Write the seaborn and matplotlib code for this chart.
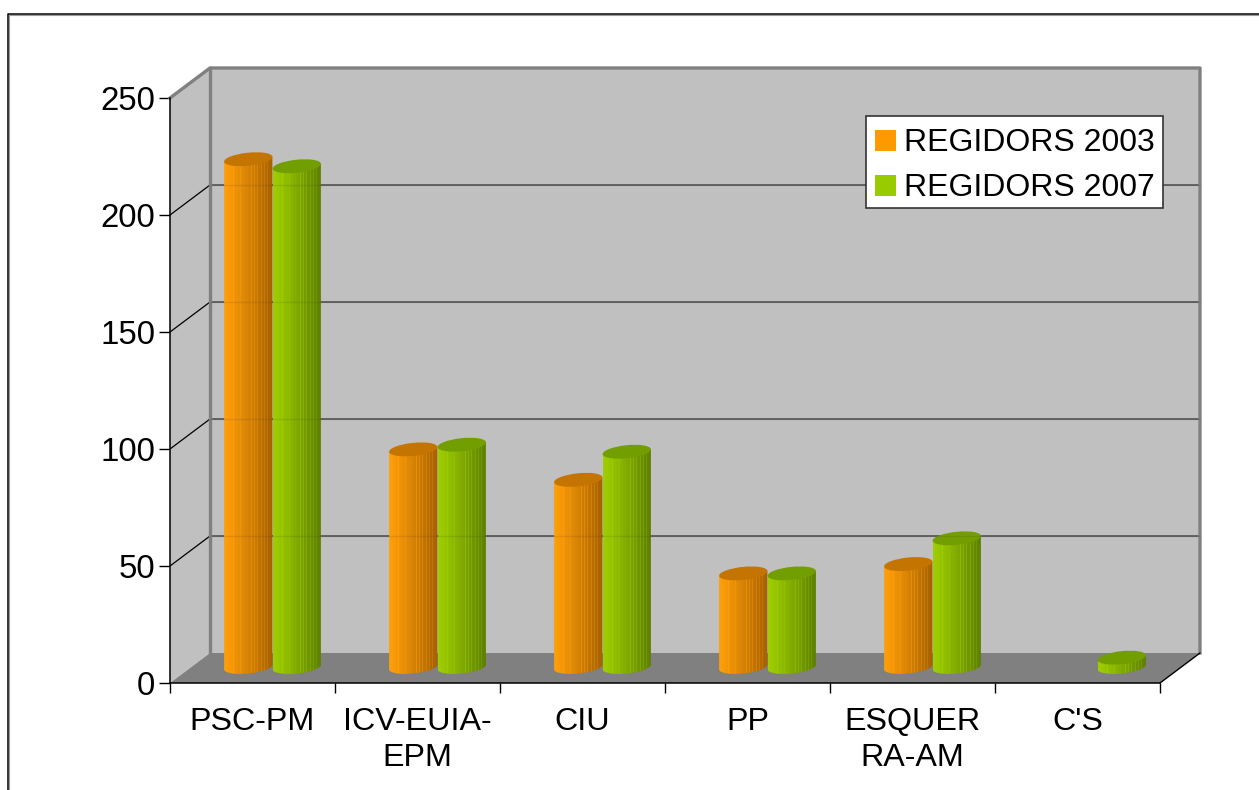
import matplotlib
matplotlib.use("Agg")
import matplotlib.pyplot as plt
import numpy as np
import pandas as pd
import seaborn as sns
from matplotlib.lines import Line2D
from matplotlib.patches import Ellipse, Polygon
from matplotlib.path import Path
from matplotlib.transforms import IdentityTransform

# Values
partits = ["PSC-PM", "ICV-EUIA-\nEPM", "CIU", "PP", "ESQUER\nRA-AM", "C'S"]
regidors_2003 = [217, 93, 80, 40, 44, 0]
regidors_2007 = [214, 95, 92, 40, 55, 4]
y_ticks = [0, 50, 100, 150, 200, 250]
series_names = ["REGIDORS 2003", "REGIDORS 2007"]

# Colours (bright side, dark side, top of the cylinder)
series_colors = ["#FF9900", "#99CC00"]
bright = [(1.0, 0.62, 0.04), (0.62, 0.81, 0.0)]
dark = [(0.64, 0.38, 0.0), (0.36, 0.49, 0.0)]
tops = ["#C47400", "#739E00"]

W, H = 1259, 790
sns.set_theme(style="white")
plt.rcParams["font.family"] = ["Liberation Sans", "DejaVu Sans"]
FS_Y = 23.76
FS_X = 23.2
FS_LEG = 23.05

df = pd.DataFrame({
    "partit": partits * 2,
    "regidors": regidors_2003 + regidors_2007,
    "any": [series_names[0]] * 6 + [series_names[1]] * 6,
})

fig = plt.figure(figsize=(W / 100, H / 100), dpi=100, facecolor="white")
ax = fig.add_axes([170 / W, 1 - 683 / H, 990 / W, 585 / H])
ax.set_facecolor("none")

sns.barplot(data=df, x="partit", y="regidors", hue="any", order=partits,
            hue_order=series_names, palette=series_colors, saturation=1,
            width=0.588, gap=0, errorbar=None, ax=ax, zorder=5, edgecolor="none", linewidth=0)

ax.set_xlim(-0.5, 5.5)
ax.set_ylim(0, 250)
dx = 40 / 165  # depth of the box, in data units
dy = 30 / 2.34
base = 16 / 2.34  # bars stand in the middle of the floor


def box(points, **kw):
    ax.add_patch(Polygon(points, closed=True, clip_on=False, lw=0, **kw))


def edge(xs, ys, **kw):
    ax.add_line(Line2D(xs, ys, clip_on=False, **kw))


L, R = -0.5, 5.5
box([(L, 0), (L, 250), (L + dx, 250 + dy), (L + dx, dy)], facecolor="#C0C0C0", zorder=1)
box([(L + dx, dy), (L + dx, 250 + dy), (R + dx, 250 + dy), (R + dx, dy)], facecolor="#C0C0C0", zorder=1)
box([(L, 0), (R, 0), (R + dx, dy), (L + dx, dy)], facecolor="#808080", zorder=1)

# gridlines on the walls
for v in y_ticks[1:-1]:
    edge([L + dx, R + dx], [v + dy, v + dy], color="#555555", lw=1.2, zorder=2)
    edge([L, L + dx], [v, v + dy], color="black", lw=0.9, zorder=2)

# thick grey border of the walls
grey = dict(color="#808080", lw=2.4, zorder=3, solid_capstyle="projecting")
edge([L, L + dx, R + dx, R + dx], [250, 250 + dy, 250 + dy, dy], **grey)
edge([L + dx, L + dx], [250 + dy, dy], **grey)
edge([R, R + dx], [0, dy], color="black", lw=1.0, zorder=3)


def ellipse_xy(cx, cy, w, h, angle, t):
    a = np.deg2rad(angle)
    x = w / 2 * np.cos(t)
    y = h / 2 * np.sin(t)
    return np.column_stack([cx + x * np.cos(a) - y * np.sin(a),
                            cy + x * np.sin(a) + y * np.cos(a)])


def stripes(i, n=60):
    t = np.linspace(0, 1, n)
    shade = t ** 1.15
    colors = np.outer(1 - shade, bright[i]) + np.outer(shade, dark[i])
    # thin lighter facets, mostly on the right half
    idx = np.arange(n)
    colors[(idx % 4 == 1) & (t > 0.45) & (t < 0.92)] *= 1.12
    colors[(idx % 9 == 2) & (t <= 0.45)] *= 1.05
    return np.clip(colors, 0, 1)[np.newaxis, :, :]


ELL_H = 13
TILT = 6
for i, container in enumerate(ax.containers):
    for p in container.patches:
        if p.get_height() <= 0:
            p.set_visible(False)
            continue
        p.set_x(p.get_x() + dx / 2)
        p.set_y(base)
        x0, x1 = p.get_x(), p.get_x() + p.get_width()
        y1 = base + p.get_height()
        z = 5 + i

        (l, b), (r, t) = ax.transData.transform([(x0, base), (x1, y1)])
        w = r - l
        cx = (l + r) / 2
        low = ellipse_xy(cx, b, w, ELL_H, TILT, np.linspace(np.pi, 2 * np.pi, 40))
        high = ellipse_xy(cx, t, w, ELL_H, TILT, np.array([0.0, np.pi]))
        outline = np.vstack([low, high, low[:1]])

        p.set_visible(False)  # the shaded cylinder takes the place of the flat bar
        img = ax.imshow(stripes(i), extent=(x0, x1, base - 5, y1 + 5), aspect="auto",
                        interpolation="nearest", zorder=z + 0.1, clip_on=True)
        img.set_clip_path(Path(outline), IdentityTransform())
        ax.add_patch(Ellipse((cx, t), w, ELL_H, angle=TILT, facecolor=tops[i], edgecolor="none",
                             transform=IdentityTransform(), clip_on=False, zorder=z + 0.2))

# gridlines show faintly through the bars
for v in y_ticks[1:-1]:
    edge([L + dx, R + dx], [v + dy, v + dy], color="#333333", lw=1.0, alpha=0.12, zorder=7.5)

ax.set_xlim(-0.5, 5.5)
ax.set_ylim(0, 250)

sns.despine(ax=ax)
for s in ["left", "bottom"]:
    ax.spines[s].set_color("black")
    ax.spines[s].set_linewidth(1.1)
    ax.spines[s].set_zorder(4)

ax.set_xlabel("")
ax.set_ylabel("")
ax.set_yticks(y_ticks)
ax.set_xticks(np.arange(-0.5, 6, 1), minor=True)
ax.set_xticks(range(6))
ax.set_xticklabels(partits, fontsize=FS_X, color="black", linespacing=1.28)
ax.tick_params(axis="x", which="major", length=0, pad=17)
ax.tick_params(axis="x", which="minor", bottom=True, length=7.5, width=1.0, color="black")
ax.tick_params(axis="y", left=True, length=8, width=1.0, color="black", labelsize=FS_Y, labelcolor="black", pad=2.5)

sns.move_legend(ax, "upper left", bbox_to_anchor=((866 - 170) / 990, (683 - 116) / 585),
                title=None, frameon=True, fancybox=False, framealpha=1, facecolor="white",
                edgecolor="#333333", fontsize=FS_LEG, labelcolor="black", handlelength=0.66,
                handleheight=0.66, handletextpad=0.25, borderpad=0.27, labelspacing=0.47,
                borderaxespad=0)
leg = ax.get_legend()
leg.get_frame().set_linewidth(1.2)
leg.set_zorder(20)
# the entries sit a little lower in the box than matplotlib puts them
for txt in leg.get_texts():
    txt.set_y(-3)
for handle in leg.legend_handles:
    handle.set_y(handle.get_y() - 3)

# outer frame, running off the right and bottom of the picture
fig.add_artist(Line2D([9 / W, 9 / W, 1], [0, 1 - 15 / H, 1 - 15 / H], color="#999999", lw=0.8))
fig.add_artist(Line2D([8 / W, 8 / W, 1], [0, 1 - 14 / H, 1 - 14 / H], color="black", lw=1.1))

fig.savefig("out.png", dpi=100)
